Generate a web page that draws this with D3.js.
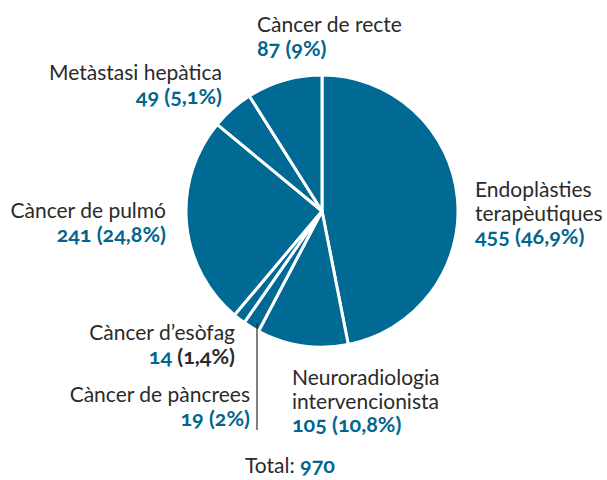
<!DOCTYPE html>
<html>
<head>
<meta charset="utf-8">
<script src="https://cdn.jsdelivr.net/npm/d3@7"></script>
<style>
  body { margin: 0; background: #fff; }
  text { font-family: Lato, "Open Sans", sans-serif; font-size: 21px; fill: #2b2a29; }
  .val { font-weight: bold; font-size: 21.5px; fill: #00668f; font-variant-numeric: oldstyle-nums; }
  .dark { fill: #2b2a29; }
</style>
</head>
<body>
<div id="chart"></div>
<script>
// slices, clockwise from 12 o'clock
var categories = ["Endoplàsties terapèutiques", "Neuroradiologia intervencionista", "Càncer de pàncrees",
    "Càncer d’esòfag", "Càncer de pulmó", "Metàstasi hepàtica", "Càncer de recte"];
var values = [455, 105, 19, 14, 241, 49, 87];
var percents = ["46,9%", "10,8%", "2%", "1,4%", "24,8%", "5,1%", "9%"];
var total = 970;

// label placement (name split into lines)
var labelLines = [
    ["Endoplàsties", "terapèutiques"],
    ["Neuroradiologia", "intervencionista"],
    ["Càncer de pàncrees"],
    ["Càncer d’esòfag"],
    ["Càncer de pulmó"],
    ["Metàstasi hepàtica"],
    ["Càncer de recte"]
];
var labelPos = [
    {x: 475, y: 197, anchor: "start"},
    {x: 292, y: 385, anchor: "start"},
    {x: 250, y: 402, anchor: "end"},
    {x: 235, y: 340, anchor: "end"},
    {x: 166, y: 218, anchor: "end"},
    {x: 222, y: 80, anchor: "end"},
    {x: 257, y: 32, anchor: "start"}
];

function init() {
    var w = 607, h = 480;
    var cx = 322, cy = 211, r = 136;
    var lineH = 23.5;

    var svg = d3.select("#chart").append("svg")
        .attr("width", w)
        .attr("height", h);

    var pie = d3.pie().sort(null).value(function(d) { return d; });
    var arc = d3.arc().innerRadius(0).outerRadius(r);
    var arcs = pie(values);

    var g = svg.append("g").attr("transform", "translate(" + cx + "," + cy + ")");

    g.selectAll("path")
        .data(arcs)
        .enter().append("path")
        .attr("d", arc)
        .attr("fill", "#006994")
        .attr("stroke", "#fff")
        .attr("stroke-width", 3)
        .attr("stroke-linejoin", "round");

    // leader line for pàncrees
    svg.append("line")
        .attr("x1", 257).attr("y1", 323)
        .attr("x2", 257).attr("y2", 430)
        .attr("stroke", "#2b2a29")
        .attr("stroke-width", 1.2);

    labelLines.forEach(function(lines, i) {
        var p = labelPos[i];
        var t = svg.append("text")
            .attr("x", p.x)
            .attr("y", p.y)
            .attr("text-anchor", p.anchor);
        lines.forEach(function(l, j) {
            t.append("tspan")
                .attr("x", p.x)
                .attr("dy", j === 0 ? 0 : lineH)
                .text(l);
        });
        t.append("tspan")
            .attr("x", p.x)
            .attr("dy", lineH)
            .attr("class", "val")
            .text(values[i] + " ");
        t.append("tspan")
            .attr("class", i === 3 ? "val dark" : "val")
            .text("(" + percents[i] + ")");
    });

    var tt = svg.append("text")
        .attr("x", 245)
        .attr("y", 473);
    tt.append("tspan").text("Total: ");
    tt.append("tspan").attr("class", "val").text(total);
}

window.onload = init;
</script>
</body>
</html>
